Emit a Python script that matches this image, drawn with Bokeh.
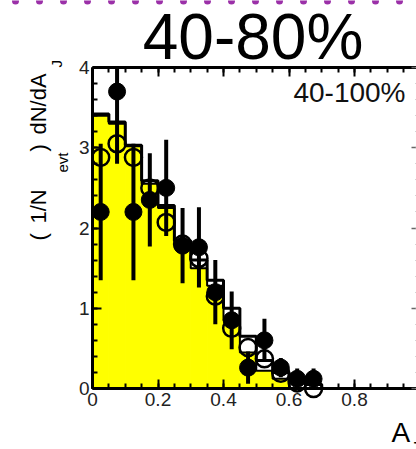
import math
from bokeh.plotting import figure
from bokeh.models import Range1d, LinearAxis, Label, SingleIntervalTicker, Span
from bokeh.embed import file_html
from bokeh.resources import INLINE

# ---------------- data ----------------
bin_edges = [0.00, 0.05, 0.10, 0.15, 0.20, 0.25, 0.30, 0.35, 0.40, 0.45, 0.50, 0.55, 0.60, 0.65, 0.70]
yellow_hist = [3.40, 3.30, 3.02, 2.55, 2.25, 1.80, 1.50, 1.28, 0.85, 0.45, 0.22, 0.12, 0.00, 0.00]
black_hist = [3.42, 3.32, 3.03, 2.59, 2.28, 1.84, 1.60, 1.35, 1.00, 0.65, 0.35, 0.20, 0.08, 0.05]

pt_x = [0.025, 0.075, 0.125, 0.175, 0.225, 0.275, 0.325, 0.375, 0.425, 0.475, 0.525, 0.575, 0.625, 0.675]
filled_y = [2.20, 3.70, 2.20, 2.35, 2.50, 1.78, 1.76, 1.20, 0.85, 0.26, 0.60, 0.26, 0.12, 0.12]
filled_err = [0.85, 0.90, 0.85, 0.58, 0.60, 0.47, 0.50, 0.40, 0.36, 0.20, 0.27, 0.12, 0.13, 0.13]
open_y = [2.88, 3.05, 2.88, 2.50, 2.07, 1.80, 1.62, 1.15, 0.75, 0.51, 0.37, 0.19, 0.07, 0.00]

title_text = "40-80%"
sub_text = "40-100%"

X_MIN, X_MAX = 0.0, 1.0
Y_MIN, Y_MAX = 0.0, 4.0

FONT = "Liberation Sans"
W, H = 416, 449
# pixel placement of the data box on the canvas
PX0, PX_PER_X = 92.0, 327.5
PY0, PX_PER_Y = 388.0, 80.25
BASE_SHIFT = 0.34  # correction of the text anchor, in units of font size

def px2x(px):
    return (px - PX0) / PX_PER_X

def py2y(py):
    return (PY0 - py) / PX_PER_Y

# ---------------- figure ----------------
p = figure(width=W, height=H, output_backend="svg", toolbar_location=None,
           x_range=Range1d(px2x(0), px2x(W)), y_range=Range1d(py2y(H), py2y(0)),
           x_axis_type=None, y_axis_type=None,
           min_border_left=0, min_border_right=0, min_border_top=0, min_border_bottom=0)
p.grid.visible = False
p.outline_line_color = None
p.background_fill_color = "white"
p.border_fill_color = "white"

xt = SingleIntervalTicker(interval=0.2, num_minor_ticks=4)
yt = SingleIntervalTicker(interval=1, num_minor_ticks=5)

def style_axis(ax, labels=True):
    ax.axis_line_color = "black"
    ax.axis_line_width = 3
    ax.major_tick_in = 9
    ax.major_tick_out = 0
    ax.minor_tick_in = 5
    ax.minor_tick_out = 0
    ax.major_tick_line_width = 2
    ax.minor_tick_line_width = 2
    ax.major_tick_line_color = "black"
    ax.minor_tick_line_color = "black"
    if labels:
        ax.major_label_text_font = FONT
        ax.major_label_text_font_size = "19px"
        ax.major_label_text_color = "#222222"
    else:
        ax.major_label_text_color = None

xb = LinearAxis(ticker=xt, fixed_location=Y_MIN, bounds=(X_MIN, X_MAX))
style_axis(xb)
xb.major_label_standoff = 4
p.add_layout(xb, "below")

xa = LinearAxis(ticker=xt, fixed_location=Y_MAX, bounds=(X_MIN, X_MAX))
style_axis(xa, labels=False)
p.add_layout(xa, "above")

yl = LinearAxis(ticker=yt, fixed_location=X_MIN, bounds=(Y_MIN, Y_MAX))
style_axis(yl)
yl.major_label_standoff = 3
p.add_layout(yl, "left")

yr = LinearAxis(ticker=yt, fixed_location=X_MAX, bounds=(Y_MIN, Y_MAX))
style_axis(yr, labels=False)
yr.axis_line_color = None
yr.major_tick_line_color = "#666666"
yr.minor_tick_line_color = "#aaaaaa"
yr.major_tick_line_width = 1.5
yr.minor_tick_line_width = 1
p.add_layout(yr, "right")

# purple dotted border at the very top
p.add_layout(Span(location=py2y(0.5), dimension="width", line_color="#9b30a8",
                  line_width=7, line_dash="0 24", line_cap="round", line_dash_offset=9))

# yellow histogram (outline in the fill colour hides seams between bins)
p.quad(left=bin_edges[:-1], right=bin_edges[1:], bottom=0, top=yellow_hist,
       fill_color="#FFFF00", line_color="#FFFF00", line_width=1)

def step_xy(edges, vals):
    xs, ys = [edges[0]], [0]
    for i, v in enumerate(vals):
        xs += [edges[i], edges[i + 1]]
        ys += [v, v]
    xs.append(edges[len(vals)])
    ys.append(0)
    return xs, ys

yx, yy = step_xy(bin_edges, yellow_hist)
p.line(yx, yy, line_color="black", line_width=2)
bx, by = step_xy(bin_edges, black_hist)
p.line(bx, by, line_color="black", line_width=3)

# error bars (clipped at the top of the box, as in the reference)
p.segment(x0=pt_x, y0=[max(y - e, Y_MIN) for y, e in zip(filled_y, filled_err)],
          x1=pt_x, y1=[min(y + e, Y_MAX) for y, e in zip(filled_y, filled_err)],
          line_color="black", line_width=4)

# open circles
p.scatter(pt_x, open_y, marker="circle", size=17, fill_color=None,
          line_color="black", line_width=2.5)
# filled circles
p.scatter(pt_x, filled_y, marker="circle", size=17, fill_color="black",
          line_color="black")

# ---------------- texts ----------------
def hlabel(txt, px, base_py, fs, align="left", color="black"):
    p.add_layout(Label(x=px2x(px), y=py2y(base_py - BASE_SHIFT * fs), text=txt,
                       text_font=FONT, text_font_size=f"{fs}px", text_align=align,
                       text_baseline="alphabetic", text_color=color))

def vlabel(txt, base_px, start_py, fs):
    p.add_layout(Label(x=px2x(base_px - BASE_SHIFT * fs), y=py2y(start_py), text=txt,
                       text_font=FONT, text_font_size=f"{fs}px", angle=math.pi / 2,
                       text_align="left", text_baseline="alphabetic", text_color="black"))

hlabel(title_text, 252.5, 58, 64, align="center")
hlabel(sub_text, 405, 102, 28, align="right", color="#111111")

# x axis title  A_J
hlabel("A", 391, 442, 28)
hlabel("J", 410, 455, 18)

# y axis title (1/N_evt) dN/dA_J, rotated (baseline x, start y in page pixels)
main_fs, sub_fs = 22, 15
vlabel("(", 45.5, 240, main_fs)
vlabel("1/N", 45.5, 223, main_fs)
vlabel("evt", 67, 172, sub_fs)
vlabel(")", 45.5, 151, main_fs)
vlabel("dN/dA", 45.5, 134, main_fs)
vlabel("J", 61, 67, sub_fs)

open("out.html", "w").write(file_html(p, INLINE))
